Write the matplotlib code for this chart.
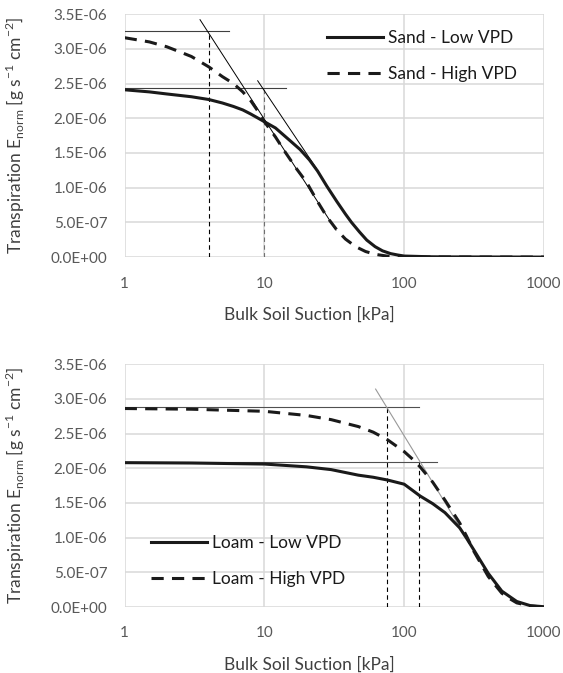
import matplotlib
matplotlib.use('Agg')
import matplotlib.pyplot as plt
from matplotlib.ticker import FuncFormatter, FixedLocator

plt.rcParams['font.family'] = ['Lato', 'DejaVu Sans']

# Areia (sand), em 1E-06
sand_x = [1, 1.5, 2, 3, 4, 5, 6, 7, 8, 10, 12, 15, 18, 21, 24, 28, 33, 38, 42, 48, 54, 62, 70, 80, 90, 100, 150, 200, 1000]
sand_low = [2.41, 2.38, 2.35, 2.31, 2.27, 2.22, 2.17, 2.12, 2.06, 1.95, 1.86, 1.69, 1.55, 1.40, 1.24, 1.02, 0.80, 0.62, 0.50, 0.36, 0.245, 0.15, 0.09, 0.05, 0.03, 0.015, 0.005, 0.003, 0.0]
sand_hx = [1, 1.5, 2, 2.6, 3, 4, 5, 6, 7, 8, 9, 10, 12, 14, 17, 20, 24, 28, 33, 38, 45, 53, 62, 75, 90, 100, 1000]
sand_high = [3.16, 3.10, 3.03, 2.94, 2.89, 2.74, 2.60, 2.50, 2.38, 2.25, 2.10, 1.95, 1.73, 1.52, 1.27, 1.08, 0.80, 0.58, 0.39, 0.26, 0.15, 0.08, 0.04, 0.015, 0.005, 0.002, 0.0]

# Franco (loam)
loam_x = [1, 3, 10, 20, 30, 47, 60, 76, 100, 115, 130, 160, 196, 250, 280, 316, 400, 500, 570, 640, 800, 1000]
loam_low = [2.08, 2.075, 2.06, 2.02, 1.98, 1.90, 1.87, 1.83, 1.77, 1.68, 1.60, 1.49, 1.36, 1.14, 0.99, 0.82, 0.485, 0.23, 0.15, 0.08, 0.02, 0.005]
loam_high = [2.86, 2.85, 2.82, 2.76, 2.70, 2.60, 2.52, 2.41, 2.24, 2.13, 2.02, 1.80, 1.54, 1.21, 1.02, 0.80, 0.44, 0.20, 0.12, 0.06, 0.015, 0.0]

# Linhas auxiliares (x, y em 1E-06)
sand_hlines = [(3.26, 5.55), (2.43, 14.3)]
sand_vlines = [(4.0, 3.26, 'black'), (10.0, 2.43, '#707070')]
sand_tangents = [((3.46, 32.5), (3.42, 0.39)), ((8.95, 23.5), (2.54, 1.28))]
loam_hlines = [(2.875, 127), (2.095, 173)]
loam_vlines = [(76, 2.875, 'black'), (128.6, 2.095, 'black')]
loam_tangent = ((62.5, 295), (3.14, 0.92))

yticks = [0, 0.5, 1.0, 1.5, 2.0, 2.5, 3.0, 3.5]
xticks = [1, 10, 100, 1000]

E = 1e-6

fig = plt.figure(figsize=(5.63, 6.73), dpi=100)
ax1 = fig.add_axes([0.2215, 0.618, 0.7445, 0.361])
ax2 = fig.add_axes([0.2215, 0.098, 0.7445, 0.361])


def estilo(ax):
    ax.set_xscale('log')
    ax.set_xlim(1, 1000)
    ax.set_ylim(0, 3.5 * E)
    ax.xaxis.set_major_locator(FixedLocator(xticks))
    ax.xaxis.set_minor_locator(FixedLocator([]))
    ax.xaxis.set_major_formatter(FuncFormatter(lambda v, p: '%d' % v))
    ax.yaxis.set_major_locator(FixedLocator([t * E for t in yticks]))
    ax.yaxis.set_major_formatter(FuncFormatter(lambda v, p: '%.1E' % v))
    ax.grid(True, color='#d9d9d9', linewidth=1.1)
    ax.set_axisbelow(True)
    for s in ax.spines.values():
        s.set_visible(False)
    ax.tick_params(axis='both', length=0, labelsize=11, colors='#595959')
    ax.tick_params(axis='x', pad=14)
    ax.tick_params(axis='y', pad=12.5)
    ax.set_xlabel('Bulk Soil Suction [kPa]', fontsize=12.5, color='#404040')
    ax.xaxis.set_label_coords(0.44, -0.205)
    ax.set_ylabel(r'Transpiration E$_{\mathregular{norm}}$ [g s$^{\mathregular{-1}}$ cm$^{\mathregular{-2}}$]',
                  fontsize=12.5, color='#404040')
    ax.yaxis.set_label_coords(-0.233, 0.5)


for ax in (ax1, ax2):
    estilo(ax)

# Grafico de cima: areia
ax1.plot(sand_x, [v * E for v in sand_low], color='#1a1a1a', lw=2.2, label='Sand - Low VPD', zorder=4)
ax1.plot(sand_hx, [v * E for v in sand_high], color='#1a1a1a', lw=2.2, dashes=(4, 2.7), label='Sand - High VPD', zorder=4)
for y, x2 in sand_hlines:
    ax1.plot([1, x2], [y * E, y * E], color='#404040', lw=0.8, zorder=3)
for x, y, c in sand_vlines:
    ax1.plot([x, x], [0, y * E], color=c, lw=0.8, ls=(0, (4, 3)), zorder=3)
for xs, ys in sand_tangents:
    ax1.plot(xs, [v * E for v in ys], color='black', lw=0.7, zorder=3)
ax1.legend(loc='upper left', bbox_to_anchor=(0.482, 0.935), frameon=False, fontsize=12.5,
           handlelength=3.25, handletextpad=0.3, labelspacing=1.15, borderpad=0, borderaxespad=0,
           labelcolor='#1a1a1a')

# Grafico de baixo: franco
ax2.plot(loam_x, [v * E for v in loam_low], color='#1a1a1a', lw=2.2, label='Loam - Low VPD', zorder=4)
ax2.plot(loam_x, [v * E for v in loam_high], color='#1a1a1a', lw=2.2, dashes=(4, 2.7), label='Loam - High VPD', zorder=4)
for y, x2 in loam_hlines:
    ax2.plot([1, x2], [y * E, y * E], color='#505050', lw=0.8, zorder=3)
for x, y, c in loam_vlines:
    ax2.plot([x, x], [0, y * E], color=c, lw=0.8, ls=(0, (4, 3)), zorder=3)
ax2.plot(loam_tangent[0], [v * E for v in loam_tangent[1]], color='#999999', lw=0.8, zorder=3)
ax2.legend(loc='upper left', bbox_to_anchor=(0.062, 0.298), frameon=False, fontsize=12.5,
           handlelength=3.25, handletextpad=0.3, labelspacing=1.15, borderpad=0, borderaxespad=0,
           labelcolor='#1a1a1a')

fig.savefig('out.png', dpi=100)
